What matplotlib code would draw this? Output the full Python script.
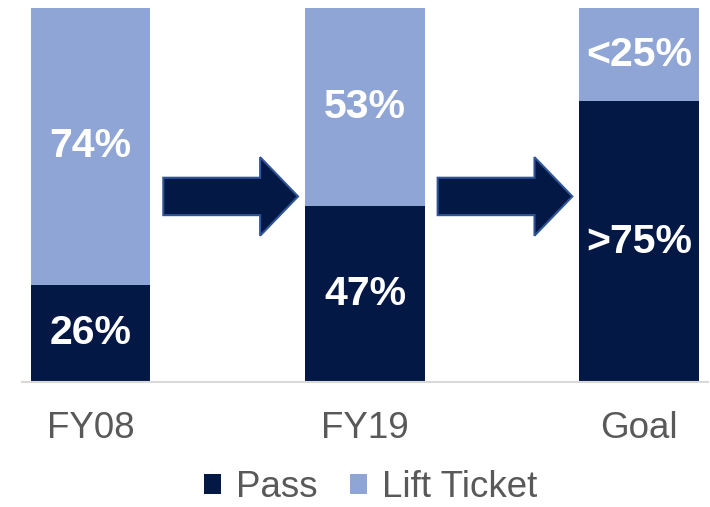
import matplotlib.pyplot as plt
from matplotlib.patches import Polygon

plt.rcParams['font.family'] = ['Liberation Sans', 'DejaVu Sans']

categories = ['FY08', 'FY19', 'Goal']
pass_share = [26, 47, 75]
lift_share = [74, 53, 25]
pass_labels = ['26%', '47%', '>75%']
lift_labels = ['74%', '53%', '<25%']

dark = '#041845'
light = '#8FA5D5'

fig = plt.figure(figsize=(7.1, 5.07), dpi=100)
ax = fig.add_axes([0.031, 0.2465, 0.966, 0.738])

x = range(len(categories))
b1 = ax.bar(x, pass_share, width=0.436, color=dark, label='Pass')
b2 = ax.bar(x, lift_share, width=0.436, bottom=pass_share, color=light, label='Lift Ticket')

for bars, labels in ((b1, pass_labels), (b2, lift_labels)):
    for rect, lab in zip(bars, labels):
        cy = rect.get_y() + rect.get_height() / 2
        ax.text(rect.get_x() + rect.get_width() / 2, cy, lab, ha='center', va='center',
                color='white', fontsize=29.5, fontweight='bold')

# block arrows between the bars
for i in range(len(categories) - 1):
    x0, xb, xt = i + 0.265, i + 0.618, i + 0.756
    yc, sh, hh = 49.6, 5.0, 10.5
    pts = [(x0, yc - sh), (xb, yc - sh), (xb, yc - hh), (xt, yc),
           (xb, yc + hh), (xb, yc + sh), (x0, yc + sh)]
    ax.add_patch(Polygon(pts, closed=True, facecolor=dark, edgecolor='#2F5597', linewidth=1.5))

ax.set_xlim(-0.25, 2.25)
ax.set_ylim(0, 100)
ax.set_xticks(list(x))
ax.set_xticklabels(categories, fontsize=26.5, color='#595959')
ax.tick_params(axis='x', length=0, pad=21)
ax.set_yticks([])
for s in ('top', 'right', 'left'):
    ax.spines[s].set_visible(False)
ax.spines['bottom'].set_color('#D9D9D9')
ax.spines['bottom'].set_linewidth(1.5)

fig.legend(handles=[b1, b2], loc='lower center', bbox_to_anchor=(0.522, -0.032), ncol=2,
           frameon=False, fontsize=26.5, labelcolor='#595959', handlelength=0.45,
           handleheight=0.45, handletextpad=0.4, columnspacing=0.9, borderpad=0)

fig.savefig('out.png', dpi=100)
